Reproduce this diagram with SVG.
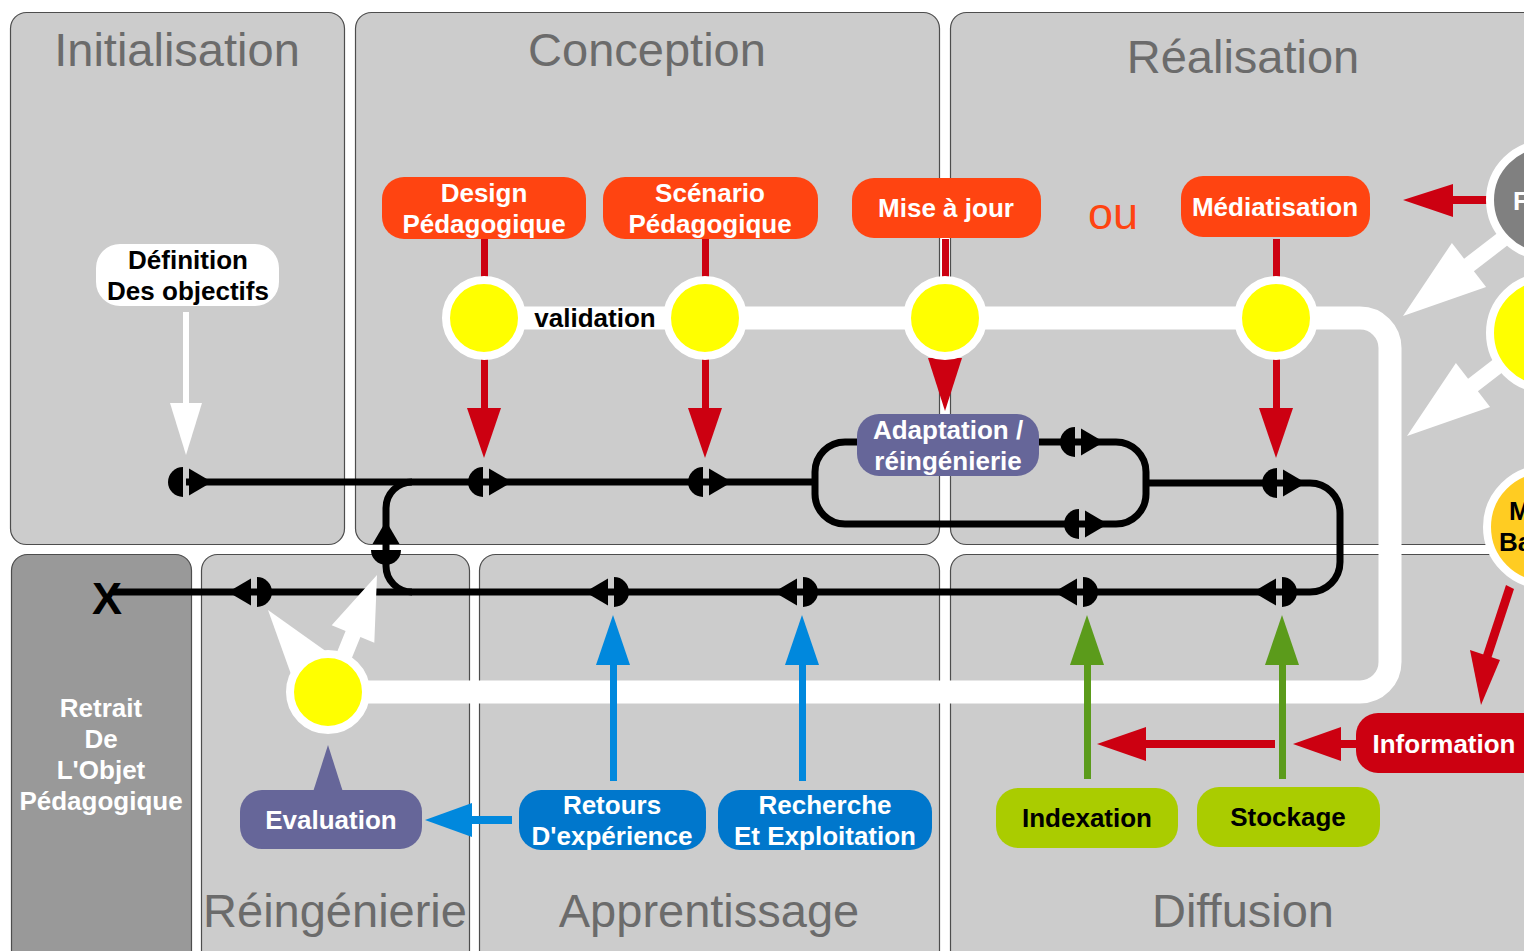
<svg xmlns="http://www.w3.org/2000/svg" xmlns:xlink="http://www.w3.org/1999/xlink" width="1524" height="951" viewBox="0 0 1524 951">
<style>
.panel{fill:#cccccc;stroke:#4d4d4d;stroke-width:1.2}
.retrait{fill:#999999;stroke:#4d4d4d;stroke-width:1.2}
.title{font-family:"Liberation Sans",Arial,sans-serif;font-size:47px;fill:#6b6b6b;text-anchor:middle}
.lbl{font-family:"Liberation Sans",Arial,sans-serif;font-size:26px;font-weight:bold;text-anchor:middle}
.w{fill:#ffffff}
.k{fill:#000000}
.line{fill:none;stroke:#000;stroke-width:7}
.band{fill:none;stroke:#ffffff;stroke-width:23;stroke-linejoin:round}
.yc{fill:#ffff00;stroke:#ffffff;stroke-width:8}
.red{fill:#ff4411}
.dred{fill:#cc0011}
.green{fill:#aacc00}
.blue{fill:#0077cc}
.purple{fill:#666699}
</style>
<defs>
<g id="mk"><path d="M -3,-15 A 15 15 0 0 0 -3,15 Z"/><path d="M 3,-13.5 L 26,0 L 3,13.5 Z"/></g>
</defs>
<rect width="1524" height="951" fill="#ffffff"/>

<g id="panels">
<rect class="panel" x="10.5" y="12.5" width="334" height="532" rx="16"/>
<rect class="panel" x="355.5" y="12.5" width="584" height="532" rx="16"/>
<rect class="panel" x="950.5" y="12.5" width="590" height="532" rx="16"/>
<rect class="retrait" x="11.5" y="554.5" width="180" height="420" rx="16"/>
<rect class="panel" x="201.5" y="554.5" width="268" height="420" rx="16"/>
<rect class="panel" x="479.5" y="554.5" width="460" height="420" rx="16"/>
<rect class="panel" x="950.5" y="554.5" width="590" height="420" rx="16"/>
<text class="title" x="177" y="66">Initialisation</text>
<text class="title" x="647" y="66">Conception</text>
<text class="title" x="1243" y="73">Réalisation</text>
<text class="title" x="335" y="927">Réingénierie</text>
<text class="title" x="709" y="927">Apprentissage</text>
<text class="title" x="1243" y="927">Diffusion</text>
</g>

<g id="connectors">
<path class="band" d="M 484,318 L 1360,318 A 30 30 0 0 1 1390,348 L 1390,662 A 30 30 0 0 1 1360,692 L 328,692"/>
<path class="line" d="M 186,482 L 815,482"/>
<path class="line" d="M 845,442 L 1116,442 A 30 30 0 0 1 1146,472 L 1146,494 A 30 30 0 0 1 1116,524 L 845,524 A 30 30 0 0 1 815,494 L 815,472 A 30 30 0 0 1 845,442 Z"/>
<path class="line" d="M 1146,483 L 1310,483 A 30 30 0 0 1 1340,513 L 1340,562 A 30 30 0 0 1 1310,592 L 113,592"/>
<path class="line" d="M 412,482 A 26 26 0 0 0 386,508 L 386,566 A 26 26 0 0 0 412,592"/>
<use xlink:href="#mk" href="#mk" transform="translate(186,482)"/>
<use xlink:href="#mk" href="#mk" transform="translate(486,482)"/>
<use xlink:href="#mk" href="#mk" transform="translate(706,482)"/>
<use xlink:href="#mk" href="#mk" transform="translate(1078,442)"/>
<use xlink:href="#mk" href="#mk" transform="translate(1082,524)"/>
<use xlink:href="#mk" href="#mk" transform="translate(1280,483)"/>
<use xlink:href="#mk" href="#mk" transform="translate(254,592) rotate(180)"/>
<use xlink:href="#mk" href="#mk" transform="translate(611,592) rotate(180)"/>
<use xlink:href="#mk" href="#mk" transform="translate(800,592) rotate(180)"/>
<use xlink:href="#mk" href="#mk" transform="translate(1080,592) rotate(180)"/>
<use xlink:href="#mk" href="#mk" transform="translate(1279,592) rotate(180)"/>
<use xlink:href="#mk" href="#mk" transform="translate(386,547) rotate(-90)"/>

<!-- white arrow from Définition -->
<rect class="w" x="183" y="312" width="6" height="94"/>
<polygon class="w" points="170,403 202,403 186,455"/>

<!-- red arrows from top nodes -->
<g class="dred">
<rect x="481" y="239" width="7" height="50"/><rect x="702" y="239" width="7" height="50"/>
<rect x="942" y="239" width="7" height="50"/><rect x="1273" y="239" width="7" height="50"/>
<rect x="481" y="350" width="7" height="60"/><polygon points="467,408 501,408 484,458"/>
<rect x="702" y="350" width="7" height="60"/><polygon points="688,408 722,408 705,458"/>
<polygon points="928,358 962,358 945,411"/>
<rect x="1273" y="350" width="7" height="60"/><polygon points="1259,408 1293,408 1276,458"/>
<!-- top right red arrow -->
<rect x="1450" y="196" width="38" height="8"/><polygon points="1453,184 1453,217 1403,200"/>
<!-- from orange circle to Information -->
<polygon points="1506,585 1514,589 1489,665 1481,661"/>
<polygon points="1470,650 1500,660 1481,705"/>
<!-- Information to left -->
<rect x="1336" y="740" width="24" height="8"/><polygon points="1341,727 1341,761 1293,744"/>
<rect x="1140" y="740" width="135" height="8"/><polygon points="1146,727 1146,761 1097,744"/>
</g>

<!-- green arrows -->
<g fill="#5b9b1b">
<rect x="1084" y="660" width="7" height="119"/><polygon points="1070,665 1104,665 1087,615"/>
<rect x="1279" y="660" width="7" height="119"/><polygon points="1265,665 1299,665 1282,615"/>
</g>

<!-- blue arrows -->
<g fill="#0088dd">
<rect x="610" y="660" width="7" height="121"/><polygon points="596,665 630,665 613,615"/>
<rect x="799" y="660" width="7" height="121"/><polygon points="785,665 819,665 802,615"/>
<rect x="466" y="816" width="46" height="8"/><polygon points="472,803 472,837 425,820"/>
</g>

<!-- evaluation white arrows -->
<polygon class="w" points="268,610 327,652 292,677"/>
<polygon class="w" points="377,575 374.3,642.7 360.4,637 349.1,664.8 334.3,658.8 345.6,631 331.7,625.3"/>
<polygon fill="#666699" points="313,792 343,792 328,745"/>

<!-- right side white arrows -->
<polygon class="w" points="1403,316 1486.1,287.1 1473.9,271.3 1513.5,240.8 1503.7,228.2 1464.1,258.7 1451.9,242.9"/>
<polygon class="w" points="1407,436 1490.1,407.1 1477.9,391.3 1517.5,360.8 1507.7,348.2 1468.1,378.7 1455.9,362.9"/>
</g>

<g id="circles">
<circle class="yc" cx="484" cy="318" r="38"/>
<circle class="yc" cx="705" cy="318" r="38"/>
<circle class="yc" cx="945" cy="318" r="38"/>
<circle class="yc" cx="1276" cy="318" r="38"/>
<circle class="yc" cx="328" cy="692" r="38"/>
<circle cx="1546" cy="200" r="56" fill="#808080" stroke="#ffffff" stroke-width="8"/>
<text class="lbl w" x="1513" y="210" style="text-anchor:start">F</text>
<circle class="yc" cx="1546" cy="333" r="56"/>
<circle cx="1545" cy="527" r="58" fill="#ffcc22" stroke="#ffffff" stroke-width="8"/>
<text class="lbl k" x="1509" y="520" style="text-anchor:start">M</text>
<text class="lbl k" x="1499" y="551" style="text-anchor:start">Ba</text>
</g>

<g id="node-definition">
<rect x="96" y="244" width="183" height="62" rx="24" fill="#ffffff"/>
<text class="lbl k" x="188" y="269">Définition</text>
<text class="lbl k" x="188" y="300">Des objectifs</text>
</g>
<g id="node-design">
<rect class="red" x="382" y="177" width="204" height="62" rx="22"/>
<text class="lbl w" x="484" y="202">Design</text>
<text class="lbl w" x="484" y="233">Pédagogique</text>
</g>
<g id="node-scenario">
<rect class="red" x="603" y="177" width="215" height="62" rx="22"/>
<text class="lbl w" x="710" y="202">Scénario</text>
<text class="lbl w" x="710" y="233">Pédagogique</text>
</g>
<g id="node-misejour">
<rect class="red" x="852" y="178" width="189" height="60" rx="22"/>
<text class="lbl w" x="946" y="217">Mise à jour</text>
</g>
<text id="ou" x="1113" y="229" font-family="Liberation Sans, Arial, sans-serif" font-size="45" fill="#ff4411" text-anchor="middle">ou</text>
<g id="node-mediatisation">
<rect class="red" x="1181" y="176" width="189" height="61" rx="22"/>
<text class="lbl w" x="1275" y="216">Médiatisation</text>
</g>
<g id="node-validation">
<text class="lbl k" x="595" y="327">validation</text>
</g>
<g id="node-adaptation">
<rect class="purple" x="857" y="414" width="182" height="62" rx="22"/>
<text class="lbl w" x="948" y="439">Adaptation /</text>
<text class="lbl w" x="948" y="470">réingénierie</text>
</g>
<g id="node-x">
<text x="107" y="614" font-family="Liberation Sans, Arial, sans-serif" font-size="45" font-weight="bold" fill="#000" text-anchor="middle">X</text>
</g>
<g id="node-retrait">
<text class="lbl w" x="101" y="717">Retrait</text>
<text class="lbl w" x="101" y="748">De</text>
<text class="lbl w" x="101" y="779">L'Objet</text>
<text class="lbl w" x="101" y="810">Pédagogique</text>
</g>
<g id="node-evaluation">
<rect class="purple" x="240" y="790" width="182" height="59" rx="22"/>
<text class="lbl w" x="331" y="829">Evaluation</text>
</g>
<g id="node-retours">
<rect class="blue" x="519" y="790" width="187" height="60" rx="22"/>
<text class="lbl w" x="612" y="814">Retours</text>
<text class="lbl w" x="612" y="845">D'expérience</text>
</g>
<g id="node-recherche">
<rect class="blue" x="718" y="790" width="214" height="60" rx="22"/>
<text class="lbl w" x="825" y="814">Recherche</text>
<text class="lbl w" x="825" y="845">Et Exploitation</text>
</g>
<g id="node-indexation">
<rect class="green" x="996" y="788" width="182" height="60" rx="22"/>
<text class="lbl k" x="1087" y="827">Indexation</text>
</g>
<g id="node-stockage">
<rect class="green" x="1197" y="787" width="183" height="60" rx="22"/>
<text class="lbl k" x="1288" y="826">Stockage</text>
</g>
<g id="node-information">
<rect class="dred" x="1356" y="713" width="190" height="60" rx="22"/>
<text class="lbl w" x="1444" y="753">Information</text>
</g>
</svg>
